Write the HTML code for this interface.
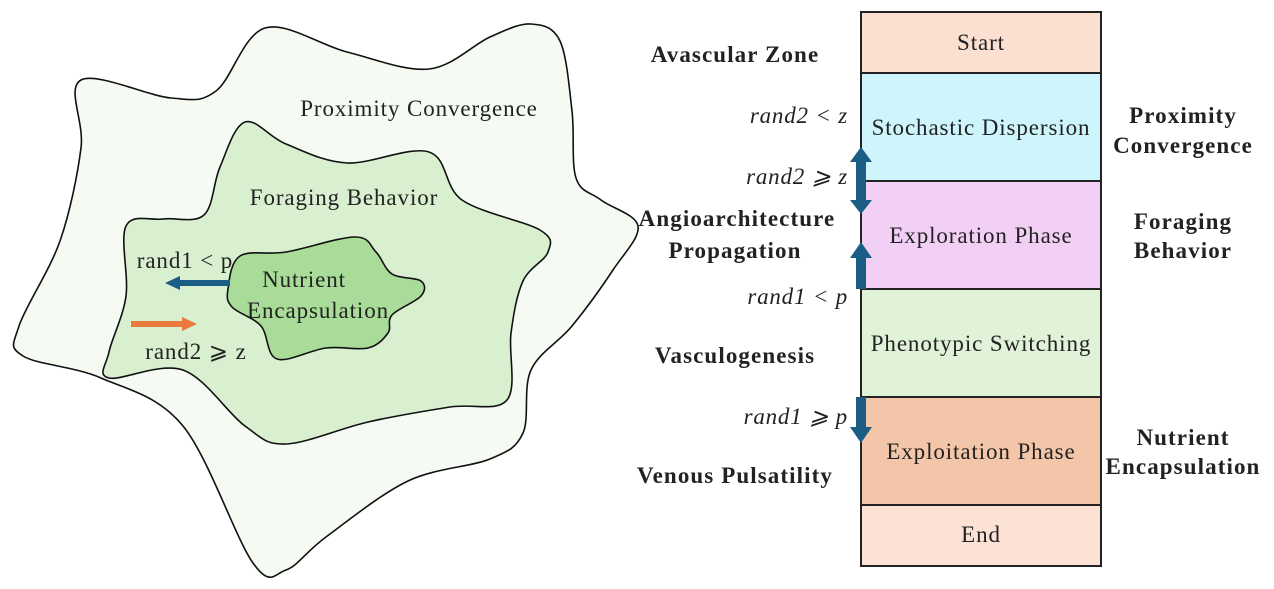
<!DOCTYPE html>
<html><head><meta charset="utf-8"><style>
html,body{margin:0;padding:0;background:#fff;width:1274px;height:589px;overflow:hidden}
svg{display:block}
text{font-family:"Liberation Serif",serif;fill:#222}
.b{font-weight:bold;font-size:23px;letter-spacing:1.1px;text-anchor:middle}
.i{font-style:italic;font-size:23px;letter-spacing:0.8px;text-anchor:end}
.c{font-size:23px;letter-spacing:0.9px;text-anchor:middle}
</style></head><body>
<svg id="s" width="1274" height="589" viewBox="0 0 1274 589" xmlns="http://www.w3.org/2000/svg">
<path id="p1" fill="#f5faf2" stroke="#111" stroke-width="1.6"/>
<path id="p2" fill="#d8f0d0" stroke="#111" stroke-width="1.6"/>
<path id="p3" fill="#a9dc98" stroke="#111" stroke-width="1.6"/>
<text x="419" y="116" class="c">Proximity Convergence</text>
<text x="344" y="205" class="c">Foraging Behavior</text>
<text x="304" y="287" class="c">Nutrient</text>
<text x="318" y="318" class="c">Encapsulation</text>
<text x="185" y="268" class="c">rand1 &lt; p</text>
<text x="196" y="359" class="c">rand2 ⩾ z</text>
<polygon points="230,280 180,280 180,276 165,283 180,290 180,286 230,286" fill="#1b5d84"/>
<polygon points="131,321 182,321 182,317 197,324 182,331 182,327 131,327" fill="#ea7a3c"/>

<g stroke="#222" stroke-width="2">
<rect x="861" y="12" width="240" height="61" fill="#fbe0d2"/>
<rect x="861" y="73" width="240" height="108" fill="#cdf5fb"/>
<rect x="861" y="181" width="240" height="108" fill="#f2d0f6"/>
<rect x="861" y="289" width="240" height="108" fill="#e0f2d7"/>
<rect x="861" y="397" width="240" height="108" fill="#f4c6a9"/>
<rect x="861" y="505" width="240" height="61" fill="#fbe2d5"/>
</g>
<text x="981" y="50" class="c">Start</text>
<text x="981" y="135" class="c">Stochastic Dispersion</text>
<text x="981" y="243" class="c">Exploration Phase</text>
<text x="981" y="351" class="c">Phenotypic Switching</text>
<text x="981" y="459" class="c">Exploitation Phase</text>
<text x="981" y="542" class="c">End</text>

<g fill="#1b5d84">
<polygon points="861,147 872,162 866,162 866,200 872,200 861,214 850,200 856,200 856,162 850,162"/>
<polygon points="861,242 872,258 866,258 866,289 856,289 856,258 850,258"/>
<polygon points="856,397 866,397 866,427 872,427 861,443 850,427 856,427"/>
</g>

<text x="735" y="62" class="b">Avascular Zone</text>
<text x="737" y="226" class="b">Angioarchitecture</text>
<text x="735" y="258" class="b">Propagation</text>
<text x="735" y="363" class="b">Vasculogenesis</text>
<text x="735" y="483" class="b">Venous Pulsatility</text>
<text x="1183" y="123" class="b">Proximity</text>
<text x="1183" y="153" class="b">Convergence</text>
<text x="1183" y="229" class="b">Foraging</text>
<text x="1183" y="258" class="b">Behavior</text>
<text x="1183" y="445" class="b">Nutrient</text>
<text x="1183" y="474" class="b">Encapsulation</text>

<text x="848" y="123" class="i">rand2 &lt; z</text>
<text x="848" y="184" class="i">rand2 ⩾ z</text>
<text x="848" y="304" class="i">rand1 &lt; p</text>
<text x="848" y="424" class="i">rand1 ⩾ p</text>
</svg>
<script>
function cr(pts){var n=pts.length,d="M"+pts[0][0]+","+pts[0][1];
for(var i=0;i<n;i++){var p0=pts[(i-1+n)%n],p1=pts[i],p2=pts[(i+1)%n],p3=pts[(i+2)%n];
var c1=[p1[0]+(p2[0]-p0[0])/6,p1[1]+(p2[1]-p0[1])/6],c2=[p2[0]-(p3[0]-p1[0])/6,p2[1]-(p3[1]-p1[1])/6];
d+=" C"+c1[0].toFixed(1)+","+c1[1].toFixed(1)+" "+c2[0].toFixed(1)+","+c2[1].toFixed(1)+" "+p2[0]+","+p2[1];}
return d+"Z";}
var o=[[81,80],[171,98],[216,91],[265,28],[347,52],[429,69],[490,37],[531,24],[560,41],[572,111],[576,178],[601,200],[638,226],[613,270],[572,326],[531,370],[523,433],[490,459],[408,481],[326,537],[286,570],[253,563],[183,426],[101,378],[23,356],[19,326],[60,241],[81,148]];
var m=[[245,122],[286,144],[347,163],[429,152],[462,200],[540,230],[548,252],[523,281],[511,333],[507,400],[450,407],[368,422],[286,444],[245,426],[183,370],[109,378],[109,352],[126,296],[126,226],[163,219],[204,215],[220,167]];
var q=[[240,256],[286,252],[355,237],[376,252],[392,274],[421,281],[421,296],[392,315],[388,333],[368,348],[326,348],[277,359],[261,326],[232,307],[228,289]];
document.getElementById("p1").setAttribute("d",cr(o));
document.getElementById("p2").setAttribute("d",cr(m));
document.getElementById("p3").setAttribute("d",cr(q));
</script>
</body></html>
